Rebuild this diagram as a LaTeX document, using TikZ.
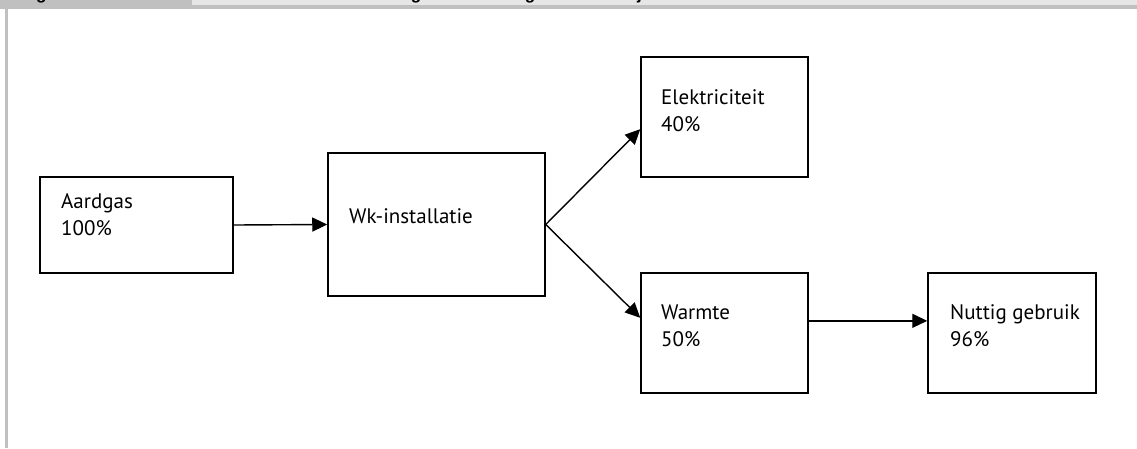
\documentclass[tikz,border=0pt]{standalone}
\usepackage{fontspec}
\setmainfont{PT Sans}
\newfontfamily\hdrfont{Liberation Sans}
\usetikzlibrary{arrows.meta,calc}
\definecolor{hdrdark}{HTML}{C0C0C0}
\definecolor{hdrlight}{HTML}{E6E6E6}
\begin{document}
\begin{tikzpicture}[x=1pt,y=-1pt,
  box/.style={draw, line width=1.5pt, inner sep=0pt, rectangle},
  txt/.style={anchor=north west, align=left, inner sep=0pt, font=\fontsize{21pt}{27pt}\selectfont},
  hdr/.style={anchor=base west, inner sep=0pt, font=\hdrfont\bfseries\fontsize{17.1pt}{20pt}\selectfont},
  flow/.style={line width=1.4pt, -{Triangle[length=15pt,width=14pt]}}]
\useasboundingbox (0,0) rectangle (1137,448);
% header strip
\fill[hdrdark] (0,0) rectangle (192,9);
\fill[hdrlight] (192,0) rectangle (1137,5);
\fill[hdrdark] (192,5) rectangle (1137,9);
\fill[hdrdark] (5,9) rectangle (8,448);
\begin{scope}
\clip (0,0) rectangle (1137,9);
\node[hdr] (fig) at (20.6,-0.5) {Figuur 1};
\node[hdr] (title) at (252,-0.5) {Schematische weergave van energiestromen bij wk-installatie};
\end{scope}
% boxes
\node[box, minimum width=193pt, minimum height=96pt] (aard) at (136.5,225) {};
\node[box, minimum width=217pt, minimum height=143pt] (wk) at (436.5,224.5) {};
\node[box, minimum width=167pt, minimum height=120pt] (elek) at (724.5,117) {};
\node[box, minimum width=167pt, minimum height=120pt] (warm) at (724.5,333) {};
\node[box, minimum width=168pt, minimum height=120pt] (nut) at (1012,333) {};
% texts
\node[txt] (aardT) at (61,193) {Aardgas\\100\%};
\node[txt] (wkT) at (349,208.5) {Wk-installatie};
\node[txt] (elekT) at (661,89) {Elektriciteit\\40\%};
\node[txt] (warmT) at (661,305) {Warmte\\50\%};
\node[txt] (nutT) at (950,304) {Nuttig gebruik\\96\%};
% connectors
\draw[flow] (aard.east) -- (wk.west);
\draw[flow] (wk.east) -- ($(elek.south west)!0.4!(elek.north west)$);
\draw[flow] (wk.east) -- ($(warm.north west)!0.375!(warm.south west)$);
\draw[flow] ($(warm.north east)!0.4!(warm.south east)$) -- ($(nut.north west)!0.4!(nut.south west)$);
\end{tikzpicture}
\end{document}
